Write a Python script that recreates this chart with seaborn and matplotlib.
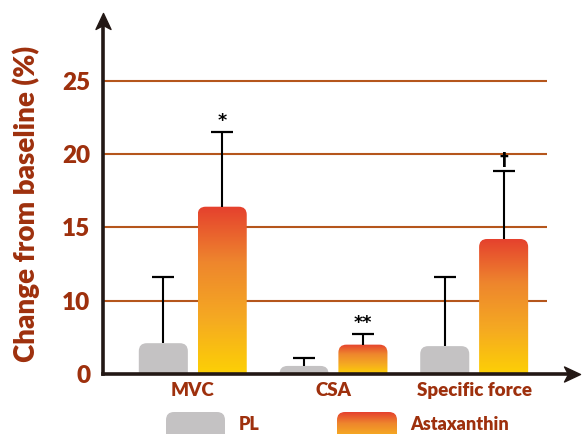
import numpy as np
import pandas as pd
import matplotlib
matplotlib.use("Agg")
import matplotlib.pyplot as plt
import seaborn as sns
from matplotlib.patches import FancyBboxPatch
from matplotlib.transforms import IdentityTransform
from matplotlib.colors import LinearSegmentedColormap
from matplotlib.path import Path

# ---------------- data ----------------
categories = ["MVC", "CSA", "Specific force"]
groups = ["PL", "Astaxanthin"]
pl_values = [4.2, 1.1, 3.8]
pl_errors = [7.4, 1.1, 7.8]
ast_values = [16.4, 4.0, 14.2]
ast_errors = [5.1, 1.5, 4.6]
ast_marks = ["*", "**", "\u2020"]
yticks = [0, 10, 15, 20, 25]
ytick_labels = ["0", "10", "15", "20", "25"]
ylabel = "Change from baseline (%)"

# ---------------- style ----------------
TXT = "#9e300d"
GRID = "#b5561c"
AXC = "#231815"
GRAY = "#c4c2c3"
grad_cmap = LinearSegmentedColormap.from_list(
    "g", ["#fdd005", "#f5a922", "#ee862d", "#e5402e"])

sns.set_theme(style="white")
plt.rcParams["font.family"] = ["Lato", "DejaVu Sans"]
WT = "heavy"

W, H = 583, 434
fig = plt.figure(figsize=(W / 100, H / 100), dpi=100)
AX_L, AX_R, AX_B, AX_T = 103, 580, 374, 13
ax = fig.add_axes([AX_L / W, (H - AX_B) / H, (AX_R - AX_L) / W, (AX_B - AX_T) / H])

df = pd.DataFrame({
    "category": categories * 2,
    "group": [groups[0]] * 3 + [groups[1]] * 3,
    "value": pl_values + ast_values,
    "err": pl_errors + ast_errors,
})

sns.barplot(data=df, x="category", y="value", hue="group", order=categories,
            hue_order=groups, palette=[GRAY, "#f29a2c"], width=0.837, gap=0.167,
            errorbar=None, legend=False, ax=ax)


def fwd(y):
    y = np.asarray(y, dtype=float)
    return np.where(y <= 10, y / 2.0, y - 5.0)


def inv(t):
    t = np.asarray(t, dtype=float)
    return np.where(t <= 5, t * 2.0, t + 5.0)


ax.set_yscale("function", functions=(fwd, inv))
XLIM = (-0.638, 2.752)
YLIM = (0, 29.6)
ax.set_xlim(*XLIM)
ax.set_ylim(*YLIM)

# gridlines
ax.hlines(yticks[1:], XLIM[0], 2.518, colors=GRID, lw=1.5, zorder=0.5)

# ticks & labels
ax.set_yticks(yticks, ytick_labels)
ax.tick_params(axis="y", length=0, pad=9, labelsize=17.5, labelcolor=TXT)
ax.tick_params(axis="x", length=0, pad=6, labelsize=13.5, labelcolor=TXT)
for lab in ax.get_yticklabels() + ax.get_xticklabels():
    lab.set_fontweight(WT)
ax.set_xlabel("")
ax.set_ylabel(ylabel, fontsize=20, fontweight=WT, color=TXT)
ax.yaxis.set_label_coords(-0.132, 0.472)

# spines
for s in ["top", "right"]:
    ax.spines[s].set_visible(False)
for s in ["left", "bottom"]:
    ax.spines[s].set_linewidth(2.6)
    ax.spines[s].set_color(AXC)
    ax.spines[s].set_zorder(4)
ax.spines["left"].set_bounds(0, 28.9)
ax.spines["bottom"].set_bounds(XLIM[0], 2.67)

# arrow heads
up = Path([(0, 0), (-0.47, -1), (0, -0.75), (0.47, -1), (0, 0)],
          [Path.MOVETO, Path.LINETO, Path.LINETO, Path.LINETO, Path.CLOSEPOLY])
right = Path([(0, 0), (-1, 0.47), (-0.75, 0), (-1, -0.47), (0, 0)],
             [Path.MOVETO, Path.LINETO, Path.LINETO, Path.LINETO, Path.CLOSEPOLY])
ax.plot([0], [1], transform=ax.transAxes, marker=up, ms=23, color=AXC,
        mec=AXC, clip_on=False, zorder=6)
ax.plot([1], [0], transform=ax.transAxes, marker=right, ms=23, color=AXC,
        mec=AXC, clip_on=False, zorder=6)

# ---------------- bars: rounded tops + gradient ----------------
R = 8
grad = np.linspace(0, 1, 256).reshape(-1, 1)
bars = []
for p in list(ax.patches):
    x0, w, h = p.get_x(), p.get_width(), p.get_height()
    xc = x0 + w / 2
    ci = int(round(xc))
    gi = 0 if xc < ci else 1
    bars.append((ci, gi, x0, w, h))
    p.set_visible(False)

for ci, gi, x0, w, h in bars:
    (px0, py0), (px1, py1) = ax.transData.transform([(x0, 0), (x0 + w, h)])
    box = FancyBboxPatch((px0, py0 - R), px1 - px0, py1 - py0 + R,
                         boxstyle=f"round,pad=0,rounding_size={R}",
                         transform=IdentityTransform(), lw=0)
    if gi == 0:
        box.set_facecolor(GRAY)
        box.set_edgecolor("none")
        box.set_zorder(1)
        ax.add_patch(box)
    else:
        im = ax.imshow(grad, cmap=grad_cmap, extent=(px0, px1, py0, py1),
                       origin="lower", aspect="auto", interpolation="bilinear",
                       transform=IdentityTransform(), zorder=1)
        im.set_clip_path(box)
    row = df[(df["category"] == categories[ci]) & (df["group"] == groups[gi])].iloc[0]
    err = row["err"]
    xcen = x0 + w / 2
    ax.errorbar([xcen], [h], yerr=[[0], [err]], fmt="none", ecolor="black",
                elinewidth=1.5, capsize=0, zorder=3)
    ax.plot([xcen], [h + err], marker="_", ms=16.5, mew=1.6, color="black",
            zorder=3)
    if gi == 1:
        ax.annotate(ast_marks[ci], (xcen, h + err), xytext=(0, 1.5),
                    textcoords="offset points", ha="center", va="bottom",
                    fontsize=12.5, fontweight="bold", color="black",
                    family="DejaVu Sans")

ax.set_xlim(*XLIM)
ax.set_ylim(*YLIM)

# ---------------- legend (overlay in pixel coordinates) ----------------
lax = fig.add_axes([0, 0, 1, 1], zorder=5)
lax.set_xlim(0, W)
lax.set_ylim(0, H)
lax.axis("off")
leg_top = H - 412
lg = FancyBboxPatch((166, -15), 59, leg_top + 15,
                    boxstyle=f"round,pad=0,rounding_size={R}",
                    fc=GRAY, ec="none")
lax.add_patch(lg)
lb = FancyBboxPatch((337, -15), 60, leg_top + 15,
                    boxstyle=f"round,pad=0,rounding_size={R}",
                    fc="none", ec="none")
lax.add_patch(lb)
lim = lax.imshow(grad, cmap=grad_cmap, extent=(337, 397, -12, leg_top),
                 origin="lower", aspect="auto", interpolation="bilinear")
lim.set_clip_path(lb)
lax.set_xlim(0, W)
lax.set_ylim(0, H)
lax.text(239, 3.5, groups[0], fontsize=13, fontweight=WT, color=TXT,
         ha="left", va="baseline")
lax.text(410, 3.5, groups[1], fontsize=13, fontweight=WT, color=TXT,
         ha="left", va="baseline")

fig.savefig("out.png", dpi=100)
